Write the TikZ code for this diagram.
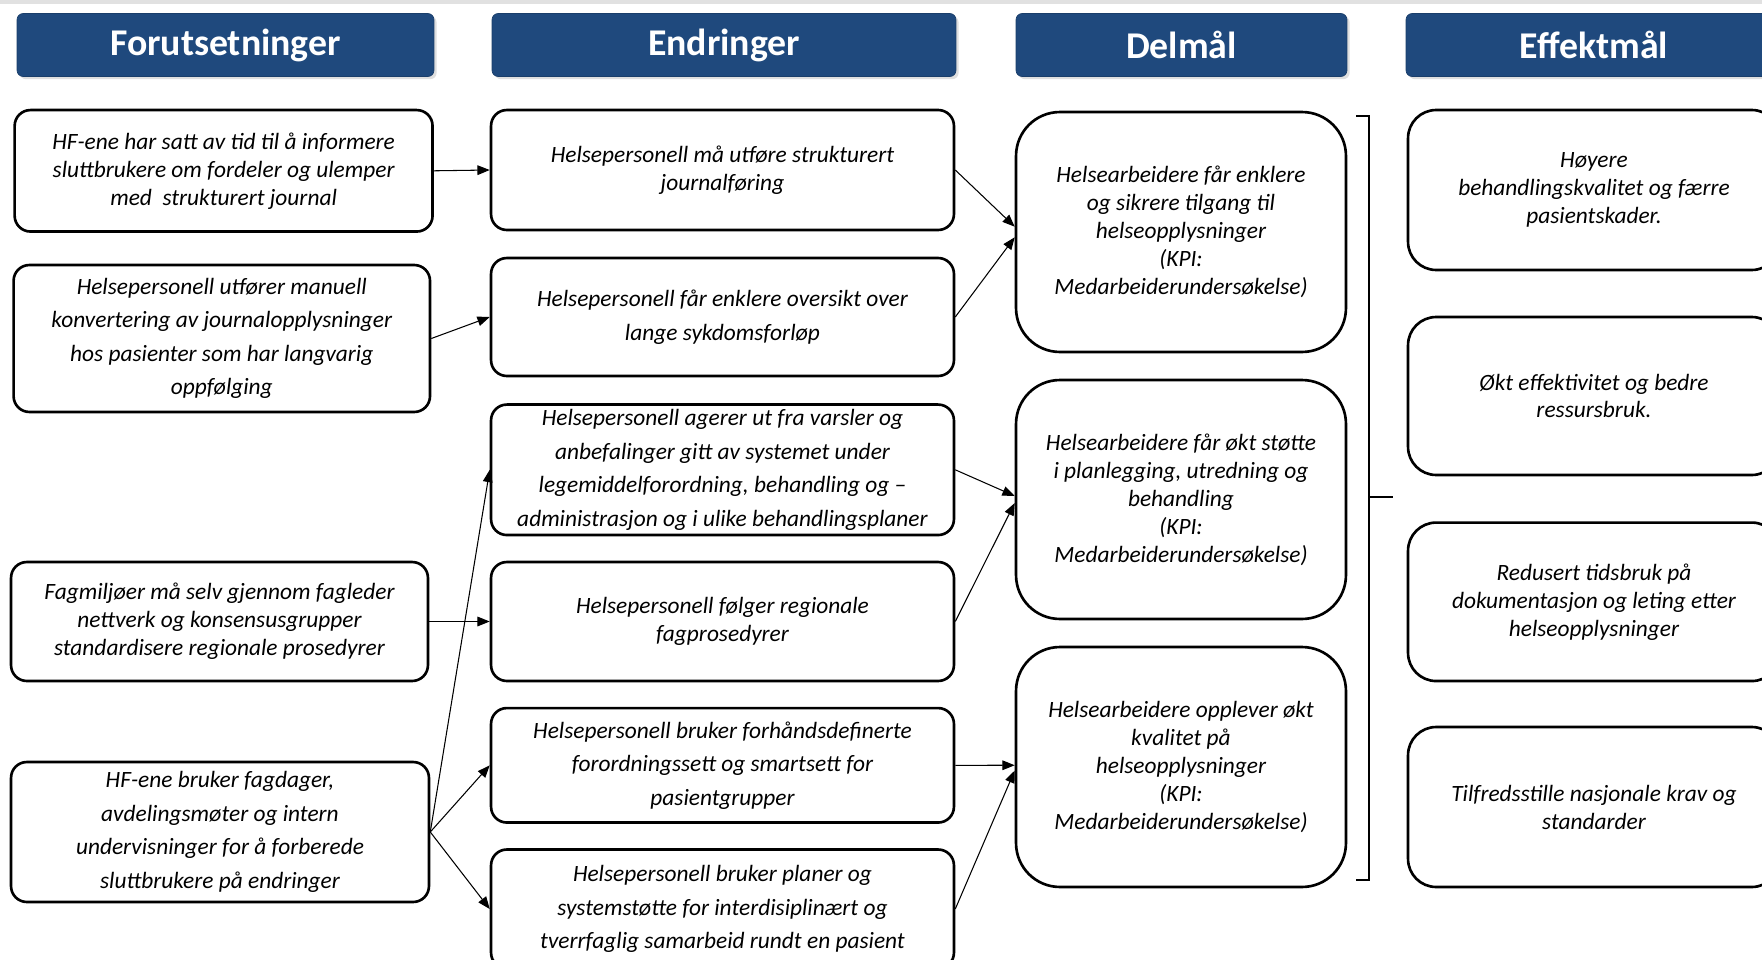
\documentclass[tikz,border=0pt]{standalone}
\usepackage{fontspec}
\setmainfont{Carlito}
\usepackage{tikz}
\usetikzlibrary{arrows.meta,shadows}
\usepackage{xcolor}
\definecolor{headblue}{RGB}{31,73,125}
\definecolor{edgegrey}{RGB}{225,225,225}

\begin{document}
\begin{tikzpicture}[x=0.02cm, y=-0.02cm,
    head/.style={fill=headblue, draw=headblue!85!black, rounded corners=3.5pt, text=white,
      font=\fontsize{21.5}{24}\selectfont\bfseries, minimum height=1.26cm,
      drop shadow={shadow xshift=1.5pt, shadow yshift=-1.5pt, opacity=0.25}},
    box/.style={draw, line width=1.5pt, rounded corners=9pt, align=center,
      font=\fontsize{13.3}{15.9}\selectfont\itshape, inner sep=2pt},
    wide/.style={font=\fontsize{13.3}{19.1}\selectfont\itshape},
    goal/.style={box, rounded corners=25pt},
    effect/.style={box, rounded corners=16pt},
    arr/.style={-{Triangle[length=7pt,width=5.5pt]}, line width=0.6pt},
  ]
    \useasboundingbox (0,0) rectangle (1762,960);
    \clip (0,0) rectangle (1762,960);
    \fill[edgegrey] (0,0) rectangle (1762,4);

    % Column headers
    \foreach \x/\w/\lab/\nm in {225.5/8.34/Forutsetninger/hPre, 724/9.28/Endringer/hChg,
        1181.5/6.62/Delmål/hSub, 1594/7.52/Effektmål/hEff}{
      \node[head, minimum width=\w cm] (\nm) at (\x,45) {\lab};
    }

    % Forutsetninger
    \node[box, minimum width=8.36cm, minimum height=2.43cm] (pre1) at (223.6,170.8)
      {HF-ene har satt av tid til å informere\\ sluttbrukere om fordeler og ulemper\\ med~ strukturert journal};
    \node[box, wide, minimum width=8.33cm, minimum height=2.94cm] (pre2) at (221.8,338.5)
      {Helsepersonell utfører manuell\\ konvertering av journalopplysninger\\ hos pasienter som har langvarig\\ oppfølging};
    \node[box, minimum width=8.34cm, minimum height=2.38cm] (pre3) at (219.5,621.5)
      {Fagmiljøer må selv gjennom fagleder\\ nettverk og konsensusgrupper\\ standardisere regionale prosedyrer};
    \node[box, wide, minimum width=8.36cm, minimum height=2.8cm] (pre4) at (220,832)
      {HF-ene bruker fagdager,\\ avdelingsmøter og intern\\ undervisninger for å forberede\\ sluttbrukere på endringer};

    % Endringer
    \node[box, minimum width=9.26cm, minimum height=2.4cm] (chg1) at (722.5,170)
      {Helsepersonell må utføre strukturert\\ journalføring};
    \node[box, wide, minimum width=9.26cm, minimum height=2.36cm] (chg2) at (722.5,317)
      {Helsepersonell får enklere oversikt over\\ lange sykdomsforløp};
    \node[box, wide, minimum width=9.26cm, minimum height=2.61cm] (chg3) at (722.5,469.8)
      {Helsepersonell agerer ut fra varsler og\\ anbefalinger gitt av systemet under\\ legemiddelforordning, behandling og –\\ administrasjon og i ulike behandlingsplaner};
    \node[box, minimum width=9.26cm, minimum height=2.38cm] (chg4) at (722.5,621.5)
      {Helsepersonell følger regionale\\ fagprosedyrer};
    \node[box, wide, minimum width=9.26cm, minimum height=2.29cm] (chg5) at (722.5,765.3)
      {Helsepersonell bruker forhåndsdefinerte\\ forordningssett og smartsett for\\ pasientgrupper};
    \node[box, wide, minimum width=9.26cm, minimum height=2.38cm] (chg6) at (722.5,909)
      {Helsepersonell bruker planer og\\ systemstøtte for interdisiplinært og\\ tverrfaglig samarbeid rundt en pasient};

    % Delmål
    \node[goal, minimum width=6.6cm, minimum height=4.8cm] (sub1) at (1181,232)
      {Helsearbeidere får enklere\\ og sikrere tilgang til\\ helseopplysninger\\ (KPI:\\ Medarbeiderundersøkelse)};
    \node[goal, minimum width=6.6cm, minimum height=4.78cm] (sub2) at (1181,499.5)
      {Helsearbeidere får økt støtte\\ i planlegging, utredning og\\ behandling\\ (KPI:\\ Medarbeiderundersøkelse)};
    \node[goal, minimum width=6.6cm, minimum height=4.8cm] (sub3) at (1181,767)
      {Helsearbeidere opplever økt\\ kvalitet på\\ helseopplysninger\\ (KPI:\\ Medarbeiderundersøkelse)};

    % Effektmål
    \node[effect, minimum width=7.44cm, minimum height=3.2cm] (eff1) at (1594,190)
      {Høyere\\ behandlingskvalitet og færre\\ pasientskader.};
    \node[effect, minimum width=7.44cm, minimum height=3.16cm] (eff2) at (1594,396)
      {Økt effektivitet og bedre\\ ressursbruk.};
    \node[effect, minimum width=7.44cm, minimum height=3.17cm] (eff3) at (1594,601.8)
      {Redusert tidsbruk på\\ dokumentasjon og leting etter\\ helseopplysninger};
    \node[effect, minimum width=7.44cm, minimum height=3.2cm] (eff4) at (1594,807)
      {Tilfredsstille nasjonale krav og\\ standarder};

    % Bracket between Delmål and Effektmål
    \draw[line width=1.1pt] (1356,116) -- (1369,116) -- (1369,880) -- (1356,880);
    \draw[line width=1.1pt] (1369,497) -- (1393,497);

    % Arrows
    \draw[arr] (pre1.east) -- (chg1.west);
    \draw[arr] (pre2.east) -- (chg2.west);
    \draw[arr] (pre3.east) -- (chg4.west);
    \foreach \t in {chg3,chg5,chg6}{
      \draw[arr] (pre4.east) -- (\t.west);
    }
    \draw[arr] (chg1.east) -- ([yshift=3pt]sub1.west);
    \draw[arr] (chg2.east) -- ([yshift=-3pt]sub1.west);
    \draw[arr] (chg3.east) -- ([yshift=2pt]sub2.west);
    \draw[arr] (chg4.east) -- ([yshift=-2pt]sub2.west);
    \draw[arr] (chg5.east) -- ([yshift=1pt]sub3.west);
    \draw[arr] (chg6.east) -- ([yshift=-2pt]sub3.west);
  \end{tikzpicture}
\end{document}
